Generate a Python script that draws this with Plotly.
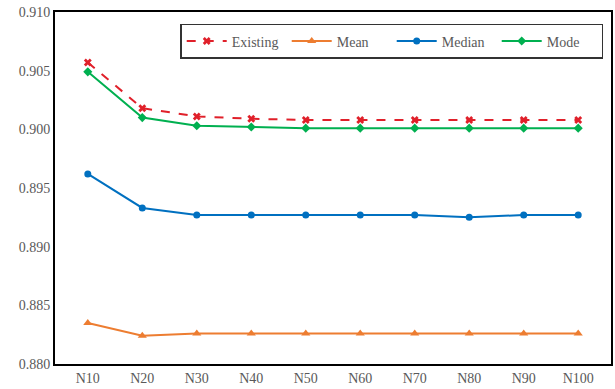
import plotly.graph_objects as go

categories = ["N10", "N20", "N30", "N40", "N50", "N60", "N70", "N80", "N90", "N100"]
existing = [0.9057, 0.9018, 0.9011, 0.9009, 0.9008, 0.9008, 0.9008, 0.9008, 0.9008, 0.9008]
mean = [0.8835, 0.8824, 0.8826, 0.8826, 0.8826, 0.8826, 0.8826, 0.8826, 0.8826, 0.8826]
median = [0.8962, 0.8933, 0.8927, 0.8927, 0.8927, 0.8927, 0.8927, 0.8925, 0.8927, 0.8927]
mode = [0.9049, 0.9010, 0.9003, 0.9002, 0.9001, 0.9001, 0.9001, 0.9001, 0.9001, 0.9001]
y_ticks = [0.880, 0.885, 0.890, 0.895, 0.900, 0.905, 0.910]

FONT = "Liberation Serif, Times New Roman, Times, serif"

fig = go.Figure()
fig.add_trace(go.Scatter(x=categories, y=existing, name="Existing", mode="lines+markers",
                         line=dict(color="#E0202A", width=2, dash="dash"),
                         marker=dict(symbol="x", size=7, color="#E0202A")))
fig.add_trace(go.Scatter(x=categories, y=mean, name="Mean", mode="lines+markers",
                         line=dict(color="#ED7D31", width=2),
                         marker=dict(symbol="triangle-up", size=8, color="#ED7D31")))
fig.add_trace(go.Scatter(x=categories, y=median, name="Median", mode="lines+markers",
                         line=dict(color="#0070C0", width=2),
                         marker=dict(symbol="circle", size=7, color="#0070C0")))
fig.add_trace(go.Scatter(x=categories, y=mode, name="Mode", mode="lines+markers",
                         line=dict(color="#00B050", width=2),
                         marker=dict(symbol="diamond", size=7, color="#00B050")))

fig.update_layout(
    width=615, height=389,
    margin=dict(l=55, r=2, t=12, b=25),
    paper_bgcolor="white", plot_bgcolor="white",
    font=dict(family=FONT, size=14, color="#595959"),
    showlegend=True,
    legend=dict(orientation="h", x=0.986, xanchor="right", y=0.966, yanchor="top",
                bordercolor="#333333", borderwidth=1.5, bgcolor="white",
                font=dict(family=FONT, size=14, color="#595959"),
                itemwidth=40, tracegroupgap=0, entrywidth=50),
    xaxis=dict(showline=True, linecolor="black", linewidth=2, mirror=True,
               showgrid=False, ticks="", tickfont=dict(family=FONT, size=14)),
    yaxis=dict(range=[0.880, 0.910], tickvals=y_ticks, tickformat=".3f",
               showline=True, linecolor="black", linewidth=2, mirror=True,
               showgrid=False, ticks="", zeroline=False, ticklabeloverflow="allow",
               tickfont=dict(family=FONT, size=14)),
)

fig.write_html("out.html", config={"displayModeBar": False},
               post_script="document.body.style.margin='0';")
